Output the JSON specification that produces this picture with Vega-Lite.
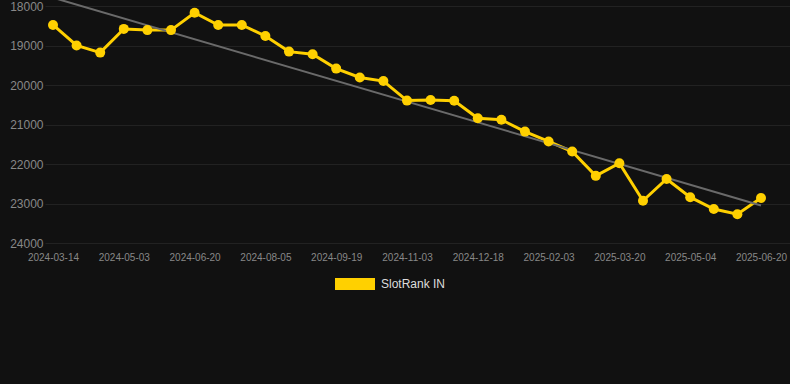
{
  "$schema": "https://vega.github.io/schema/vega-lite/v6.json",
  "autosize": {"type": "none"},
  "width": 745,
  "height": 237,
  "padding": {"left": 45, "top": 6, "right": 0, "bottom": 141},
  "background": "#111111",
  "config": {
    "view": {"stroke": null},
    "font": "Arial",
    "axis": {"gridColor": "#222222", "gridWidth": 1, "domain": false, "ticks": false, "labelColor": "#888888", "labelFont": "Arial"}
  },
  "datasets": {
    "rank": [
      {"date": "2024-03-14", "rank": 18480},
      {"date": "2024-03-31", "rank": 19000},
      {"date": "2024-04-17", "rank": 19180},
      {"date": "2024-05-03", "rank": 18580},
      {"date": "2024-05-19", "rank": 18610},
      {"date": "2024-06-04", "rank": 18610},
      {"date": "2024-06-20", "rank": 18170},
      {"date": "2024-07-05", "rank": 18480},
      {"date": "2024-07-20", "rank": 18480},
      {"date": "2024-08-05", "rank": 18760},
      {"date": "2024-08-20", "rank": 19155},
      {"date": "2024-09-04", "rank": 19220},
      {"date": "2024-09-19", "rank": 19585},
      {"date": "2024-10-04", "rank": 19810},
      {"date": "2024-10-19", "rank": 19900},
      {"date": "2024-11-03", "rank": 20395},
      {"date": "2024-11-18", "rank": 20380},
      {"date": "2024-12-03", "rank": 20400},
      {"date": "2024-12-18", "rank": 20840},
      {"date": "2025-01-03", "rank": 20880},
      {"date": "2025-01-18", "rank": 21180},
      {"date": "2025-02-03", "rank": 21430},
      {"date": "2025-02-18", "rank": 21685},
      {"date": "2025-03-05", "rank": 22300},
      {"date": "2025-03-20", "rank": 21980},
      {"date": "2025-04-04", "rank": 22930},
      {"date": "2025-04-19", "rank": 22380},
      {"date": "2025-05-04", "rank": 22840},
      {"date": "2025-05-20", "rank": 23140},
      {"date": "2025-06-04", "rank": 23270},
      {"date": "2025-06-20", "rank": 22860}
    ],
    "trend": [
      {"date": "2024-03-14", "rank": 17790},
      {"date": "2025-06-20", "rank": 23050}
    ]
  },
  "encoding": {
    "x": {
      "field": "date",
      "type": "ordinal",
      "scale": {"type": "point", "padding": 0.784, "align": 0.216},
      "axis": {
        "title": null,
        "labelAngle": 0,
        "labelFontSize": 10,
        "labelPadding": 9,
        "values": ["2024-03-14", "2024-05-03", "2024-06-20", "2024-08-05", "2024-09-19", "2024-11-03", "2024-12-18", "2025-02-03", "2025-03-20", "2025-05-04", "2025-06-20"]
      }
    },
    "y": {
      "field": "rank",
      "type": "quantitative",
      "scale": {"domain": [18000, 24000], "reverse": true, "nice": false, "zero": false},
      "axis": {"title": null, "values": [18000, 19000, 20000, 21000, 22000, 23000, 24000], "format": "d", "labelFontSize": 12, "labelPadding": 2}
    }
  },
  "layer": [
    {
      "data": {"name": "rank"},
      "mark": {"type": "line", "strokeWidth": 3},
      "encoding": {
        "color": {
          "datum": "SlotRank IN",
          "scale": {"range": ["#FFD000"]},
          "legend": {
            "title": null,
            "orient": "none",
            "legendX": 290,
            "legendY": 258,
            "padding": 0,
            "symbolType": "M-1,-0.3H1V0.3H-1Z",
            "symbolSize": 1600,
            "symbolFillColor": "#FFD000",
            "symbolStrokeWidth": 0,
            "labelFontSize": 12,
            "labelColor": "#dddddd",
            "labelFont": "Arial",
            "labelOffset": 6
          }
        }
      }
    },
    {
      "data": {"name": "trend"},
      "mark": {"type": "line", "strokeWidth": 2, "color": "#6a6a6a"},
      "encoding": {}
    },
    {
      "data": {"name": "rank"},
      "mark": {"type": "point", "filled": true, "opacity": 1, "size": 100},
      "encoding": {
        "color": {"datum": "SlotRank IN"}
      }
    }
  ]
}
